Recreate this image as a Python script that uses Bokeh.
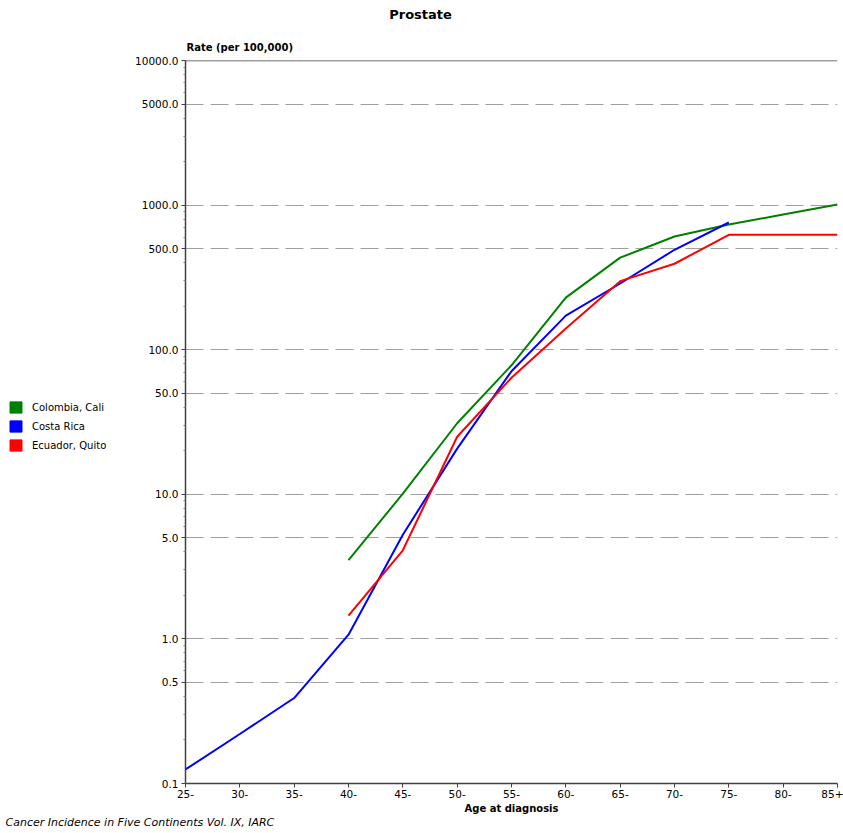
from bokeh.plotting import figure
from bokeh.layouts import row, column
from bokeh.models import (Range1d, FixedTicker, Legend, LegendItem, Span, Title,
                          Label)
from bokeh.embed import file_html
from bokeh.resources import INLINE
import numpy as np

# ---- data ----
age_groups = ["25-", "30-", "35-", "40-", "45-", "50-", "55-", "60-", "65-",
              "70-", "75-", "80-", "85+"]
colombia_cali = [None, None, None, 3.5, 10.1, 31, 78, 229, 433, 606, 734, 861, 1009]
costa_rica = [0.125, 0.22, 0.39, 1.07, 5.25, 20.7, 71, 172, 287, 491, 758, None, None]
ecuador_quito = [None, None, None, 1.45, 4.1, 25, 64, 140, 298, 393, 623, 623, 623]
series_names = ["Colombia, Cali", "Costa Rica", "Ecuador, Quito"]
series_colors = ["#008000", "#0000ff", "#ff0000"]
y_ticks = [0.1, 0.5, 1, 5, 10, 50, 100, 500, 1000, 5000, 10000]
y_tick_labels = ["0.1", "0.5", "1.0", "5.0", "10.0", "50.0", "100.0", "500.0",
                 "1000.0", "5000.0", "10000.0"]

FONT = "DejaVu Sans"
W, H = 843, 833
LEFT_W = 130          # width of the legend strip
HEAD_H = 25           # title strip
MAIN_BOTTOM = 802     # bottom of the chart part
MAIN_H = MAIN_BOTTOM - HEAD_H
FOOT_H = H - MAIN_BOTTOM


def blank(fig):
    fig.outline_line_color = None
    fig.background_fill_color = "white"
    fig.border_fill_color = "white"
    fig.min_border = 0
    fig.min_border_left = 0
    fig.min_border_right = 0
    fig.min_border_top = 0
    fig.min_border_bottom = 0
    fig.grid.grid_line_color = None


# ---------------- title strip ----------------
hd = figure(width=W, height=HEAD_H, output_backend="svg", toolbar_location=None,
            x_range=Range1d(0, W), y_range=Range1d(HEAD_H, 0),
            x_axis_location=None, y_axis_location=None, title=None)
blank(hd)
hd.add_layout(Label(x=420, y=14, text="Prostate", text_align="center",
                    text_baseline="middle", text_font=FONT,
                    text_font_size="13px", text_font_style="bold",
                    text_color="black"))

# ---------------- main chart ----------------
p = figure(width=W - LEFT_W, height=MAIN_H, output_backend="svg",
           toolbar_location=None, y_axis_type="log",
           x_range=Range1d(0, 12), y_range=Range1d(0.1, 10000),
           min_border_left=185 - LEFT_W, min_border_right=6,
           min_border_top=60 - HEAD_H, min_border_bottom=MAIN_BOTTOM - 783,
           title=None)
p.outline_line_color = None
p.background_fill_color = "white"
p.border_fill_color = "white"

p.xaxis.ticker = FixedTicker(ticks=list(range(len(age_groups))))
p.xaxis.major_label_overrides = {i: lab for i, lab in enumerate(age_groups)}
p.xaxis.major_tick_out = 4
p.xaxis.major_tick_in = 0
p.xaxis.major_label_standoff = 2

minor = []
for d in [0.1, 1, 10, 100, 1000]:
    for m in [2, 3, 4, 6, 7, 8, 9]:
        minor.append(d * m)
p.yaxis.ticker = FixedTicker(ticks=y_ticks, minor_ticks=minor)
p.yaxis.major_label_overrides = {t: l for t, l in zip(y_ticks, y_tick_labels)}
p.yaxis.major_tick_out = 4
p.yaxis.major_tick_in = 0
p.yaxis.minor_tick_out = 2
p.yaxis.minor_tick_in = 0
p.yaxis.major_label_standoff = 3

for ax in (p.xaxis, p.yaxis):
    ax.axis_line_color = "#404040"
    ax.axis_line_width = 1.5
    ax.major_tick_line_color = "#404040"
    ax.major_label_text_font = FONT
    ax.major_label_text_font_size = "10.5px"
    ax.major_label_text_color = "black"
p.xaxis.minor_tick_line_color = None
p.yaxis.minor_tick_line_color = "#808080"

p.xgrid.grid_line_color = None
p.ygrid.ticker = FixedTicker(ticks=[0.5, 1, 5, 10, 50, 100, 500, 1000, 5000])
p.ygrid.grid_line_color = "#a0a0a0"
p.ygrid.grid_line_width = 1.2
p.ygrid.grid_line_dash = "18 7"

p.add_layout(Span(location=10000, dimension="width", line_color="#404040",
                  line_width=1.5))

x = np.arange(len(age_groups))
for vals, color in zip([colombia_cali, costa_rica, ecuador_quito], series_colors):
    xs = [xi for xi, v in zip(x, vals) if v is not None]
    ys = [v for v in vals if v is not None]
    p.line(xs, ys, line_color=color, line_width=2)

p.add_layout(Title(text="Rate (per 100,000)", align="left", offset=1,
                   text_font=FONT, text_font_size="10px", text_font_style="bold",
                   text_color="black", standoff=16), "above")

# ---------------- legend strip ----------------
lg = figure(width=LEFT_W, height=MAIN_H, output_backend="svg",
            toolbar_location=None, x_range=Range1d(0, 1), y_range=Range1d(0, 1),
            x_axis_location=None, y_axis_location=None, title=None)
blank(lg)
items = []
nan = float("nan")
for name, color in zip(series_names, series_colors):
    r = lg.quad(left=[nan], right=[nan], top=[nan], bottom=[nan],
                fill_color=color, line_color=color)
    items.append(LegendItem(label=name, renderers=[r]))
legend = Legend(items=items, location=(8, MAIN_BOTTOM - 452 - 19),
                glyph_width=15, glyph_height=14, label_height=14,
                spacing=5, padding=0, margin=0, label_standoff=9,
                border_line_color=None, background_fill_alpha=0,
                label_text_font=FONT, label_text_font_size="10px",
                label_text_color="black")
lg.add_layout(legend)

# ---------------- footer strip ----------------
ft = figure(width=W, height=FOOT_H, output_backend="svg", toolbar_location=None,
            x_range=Range1d(0, W), y_range=Range1d(H, MAIN_BOTTOM),
            x_axis_location=None, y_axis_location=None, title=None)
blank(ft)
ft.add_layout(Label(x=511, y=808, text="Age at diagnosis", text_align="center",
                    text_baseline="middle", text_font=FONT,
                    text_font_size="10px", text_font_style="bold",
                    text_color="black"))
ft.add_layout(Label(x=5, y=822,
                    text="Cancer Incidence in Five Continents Vol. IX, IARC",
                    text_align="left", text_baseline="middle", text_font=FONT,
                    text_font_size="11px", text_font_style="italic",
                    text_color="black"))

layout = column(hd, row(lg, p, spacing=0), ft, spacing=0)
open("out.html", "w").write(file_html(layout, INLINE))
